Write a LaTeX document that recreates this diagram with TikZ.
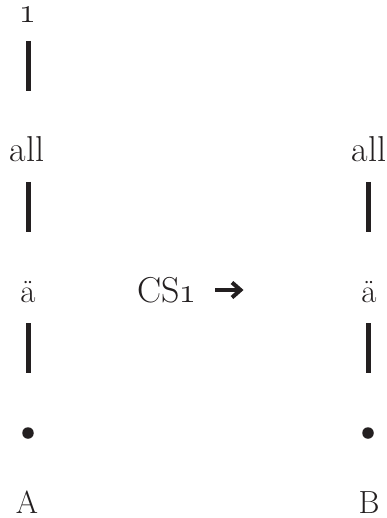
\RequirePackage{fix-cm}
\documentclass[tikz,border=0pt]{standalone}
\definecolor{ink}{HTML}{231F20}
\begin{document}
\begin{tikzpicture}[x=1pt,y=-1pt,
  txt/.style={anchor=base,inner sep=0pt,text=ink},
  big/.style={txt,font=\fontsize{36}{42}\selectfont},
  num/.style={txt,font=\fontsize{35}{40}\selectfont,text height=16pt,text depth=0pt},
  mid/.style={txt,font=\fontsize{32}{38}\selectfont},
  small/.style={txt,font=\fontsize{33}{38}\selectfont},
  bar/.style={line width=4.5pt,draw=ink},
  dot/.style={circle,fill=ink,inner sep=0pt,minimum size=11.5pt},
  shaft/.style={line width=4pt,draw=ink},
  head/.style={line width=4pt,draw=ink,miter limit=10}]
  \useasboundingbox (0,0) rectangle (386,518);

  % left column
  \node[num]   (topL) at (28,23)  {\oldstylenums{1}};
  \node[big]   (allL) at (27,162) {all};
  \node[small] (aeL)  at (28,302) {ä};
  \node[dot]   (dotL) at (28,433) {};
  \node[mid]   (A)    at (27,513) {A};

  % right column
  \node[big]   (allR) at (369,162) {all};
  \node[small] (aeR)  at (369,302) {ä};
  \node[dot]   (dotR) at (368,433) {};
  \node[mid]   (B)    at (369,513) {B};

  % middle label
  \node[big]   (cs)   at (167,302) {CS\oldstylenums{1}};

  % vertical bars
  \coordinate (l1t) at (28.5,41);  \coordinate (l1b) at (28.5,91);
  \coordinate (l2t) at (28.5,182); \coordinate (l2b) at (28.5,232);
  \coordinate (l3t) at (28.5,323); \coordinate (l3b) at (28.5,373);
  \coordinate (r2t) at (368.5,182); \coordinate (r2b) at (368.5,232);
  \coordinate (r3t) at (368.5,323); \coordinate (r3b) at (368.5,373);
  \draw[bar] (l1t) -- (l1b);
  \draw[bar] (l2t) -- (l2b);
  \draw[bar] (l3t) -- (l3b);
  \draw[bar] (r2t) -- (r2b);
  \draw[bar] (r3t) -- (r3b);

  % heavy arrow
  \coordinate (as) at (215,290);
  \coordinate (ae) at (239,290);
  \coordinate (ht) at (232,282.5);
  \coordinate (hp) at (240.5,290);
  \coordinate (hb) at (232,297.5);
  \draw[shaft] (as) -- (ae);
  \draw[head] (ht) -- (hp) -- (hb);
\end{tikzpicture}
\end{document}
